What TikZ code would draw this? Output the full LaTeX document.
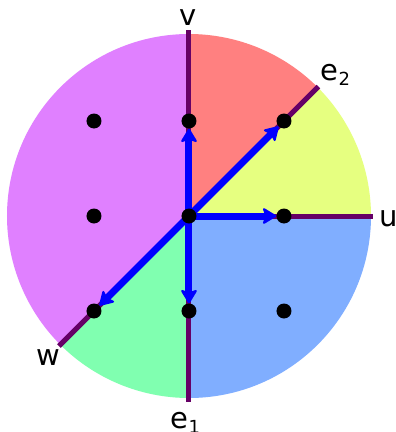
\documentclass[tikz,border=0pt]{standalone}
\usepackage{fontspec}
\setmainfont{DejaVu Sans}
\usetikzlibrary{arrows.meta}
\definecolor{cred}{HTML}{FF8080}
\definecolor{cyel}{HTML}{E6FF80}
\definecolor{cgrn}{HTML}{80FFB0}
\definecolor{cblu}{HTML}{80AEFF}
\definecolor{cmag}{HTML}{E080FF}
\definecolor{cline}{HTML}{660066}
\pgfdeclarelayer{bg}
\pgfsetlayers{bg,main}
\newcommand{\subtxt}[1]{\raisebox{-5.5pt}{\fontsize{18}{18}\selectfont #1}}
\begin{document}
\begin{tikzpicture}[x=1pt,y=1pt,
  axisline/.style={draw=cline, line width=5pt},
  vecarrow/.style={draw=blue, line width=7pt, -{Stealth[length=15pt,width=18pt,inset=3pt,round,line width=2pt]}},
  dotnode/.style={circle, fill=black, minimum size=15pt, inner sep=0pt},
  lbl/.style={inner sep=0pt, font=\fontsize{29}{29}\selectfont}]

\useasboundingbox (-189,-216) rectangle (207,216);

% dots
\node[dotnode] (c)  at (0,0) {};
\node[dotnode] (nw) at (-95,95) {};
\node[dotnode] (n)  at (0,95) {};
\node[dotnode] (ne) at (95,95) {};
\node[dotnode] (w)  at (-95,0) {};
\node[dotnode] (e)  at (95,0) {};
\node[dotnode] (sw) at (-95,-95) {};
\node[dotnode] (s)  at (0,-95) {};
\node[dotnode] (se) at (95,-95) {};

% axis ends
\coordinate (vend)  at (0,186);
\coordinate (e1end) at (0,-186);
\coordinate (e2end) at (45:183);
\coordinate (wend)  at (225:184);
\coordinate (uend)  at (184,0);

\begin{pgfonlayer}{bg}
\fill[white] (-189,-216) rectangle (207,216);
\fill[cyel] (c.center) -- (0:182) arc[start angle=0,end angle=45,radius=182] -- cycle;
\fill[cred] (c.center) -- (45:182) arc[start angle=45,end angle=90,radius=182] -- cycle;
\fill[cmag] (c.center) -- (90:182) arc[start angle=90,end angle=225,radius=182] -- cycle;
\fill[cgrn] (c.center) -- (225:182) arc[start angle=225,end angle=270,radius=182] -- cycle;
\fill[cblu] (c.center) -- (270:182) arc[start angle=270,end angle=360,radius=182] -- cycle;

\draw[axisline] (vend) -- (e1end);
\draw[axisline] (e2end) -- (wend);
\draw[axisline] (c.center) -- (uend);

\draw[vecarrow] (c.center) -- (n);
\draw[vecarrow] (c.center) -- (e);
\draw[vecarrow] (c.center) -- (ne);
\draw[vecarrow] (c.center) -- (sw);
\draw[vecarrow] (c.center) -- (s);
\end{pgfonlayer}

% labels
\node[lbl, anchor=base] (lv) at (-0.5,191) {v};
\node[lbl, anchor=base west] (le2) at (131.5,136) {e\subtxt{2}};
\node[lbl, anchor=base west] (lu) at (190,-10) {u};
\node[lbl, anchor=base west] (lw) at (-153,-149) {w};
\node[lbl, anchor=base west] (le1) at (-18.5,-212) {e\subtxt{1}};
\end{tikzpicture}
\end{document}
